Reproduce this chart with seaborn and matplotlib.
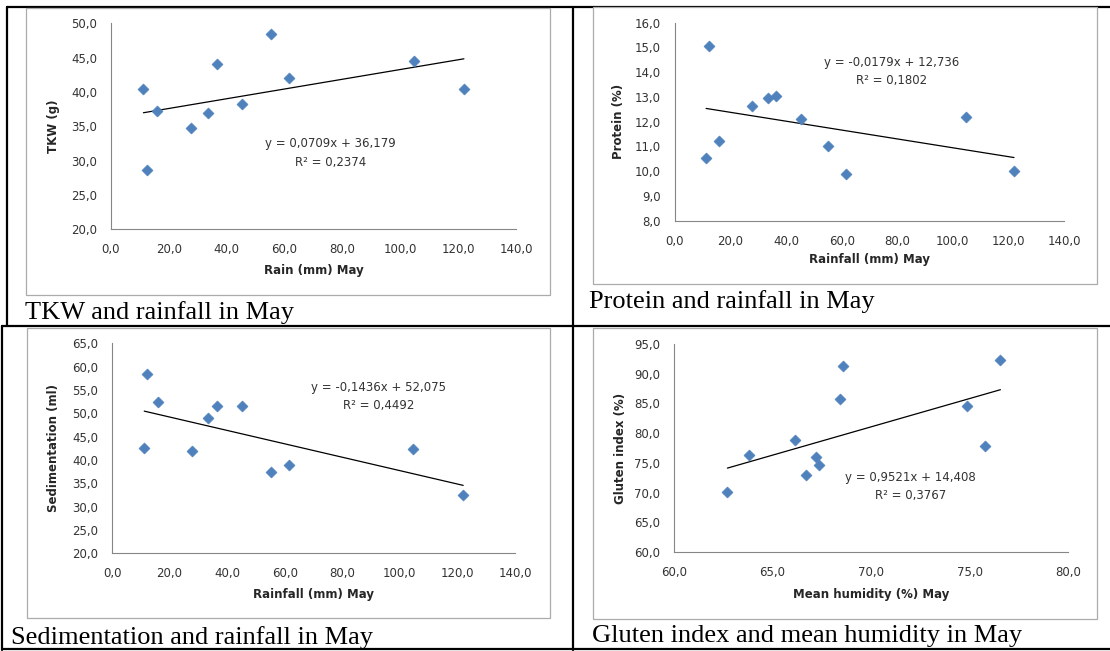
import numpy as np
import pandas as pd
import seaborn as sns
import matplotlib.pyplot as plt
from matplotlib.lines import Line2D
from matplotlib.patches import Rectangle
from matplotlib.ticker import FuncFormatter, MultipleLocator

# data
rain_may = [11.2, 12.3, 15.9, 27.8, 33.5, 36.5, 45.3, 55.2, 61.6, 104.6, 122.0]
tkw = [40.5, 28.7, 37.3, 34.7, 37.0, 44.0, 38.3, 48.4, 42.0, 44.5, 40.4]
protein = [10.52, 15.07, 11.23, 12.65, 12.97, 13.02, 12.09, 11.02, 9.90, 12.20, 10.02]
sedimentation = [42.5, 58.4, 52.4, 41.9, 48.9, 51.5, 51.5, 37.4, 38.9, 42.4, 32.5]
humidity_may = [62.71, 63.81, 66.13, 66.72, 67.23, 67.38, 68.43, 68.60, 74.89, 75.80, 76.57]
gluten_index = [70.08, 76.35, 78.87, 72.93, 76.01, 74.67, 85.70, 91.30, 84.64, 77.81, 92.36]

slopes = [0.0709, -0.0179, -0.1436, 0.9521]
intercepts = [36.179, 12.736, 52.075, 14.408]
equations = ['y = 0,0709x + 36,179', 'y = -0,0179x + 12,736',
             'y = -0,1436x + 52,075', 'y = 0,9521x + 14,408']
r_squared = ['R² = 0,2374', 'R² = 0,1802', 'R² = 0,4492', 'R² = 0,3767']
x_labels = ['Rain (mm) May', 'Rainfall (mm) May', 'Rainfall (mm) May', 'Mean humidity (%) May']
y_labels = ['TKW (g)', 'Protein (%)', 'Sedimentation (ml)', 'Gluten index (%)']
captions = ['TKW and rainfall in May', 'Protein and rainfall in May',
            'Sedimentation and rainfall in May', 'Gluten index and mean humidity in May']

xs = [rain_may, rain_may, rain_may, humidity_may]
ys = [tkw, protein, sedimentation, gluten_index]

# layout in pixels of the 1110x651 picture
W, H = 1110, 651
panels = [
    dict(axes=(111, 516, 23.3, 229.3), frame=(26, 550, 8, 295),
         xlim=(0, 140), xstep=20, ylim=(20, 50), ystep=5,
         eq=(76, 32.5, 29.76), xl=-0.198, yl=-0.143, cap=(25, 319)),
    dict(axes=(675, 1064, 22.7, 220.7), frame=(593, 1097, 7, 284),
         xlim=(0, 140), xstep=20, ylim=(8, 16), ystep=1,
         eq=(78, 14.38, 13.67), xl=-0.198, yl=-0.144, cap=(589, 308)),
    dict(axes=(112, 515, 343.3, 553.3), frame=(27, 550, 328, 618),
         xlim=(0, 140), xstep=20, ylim=(20, 65), ystep=5,
         eq=(92.5, 55.5, 51.6), xl=-0.194, yl=-0.146, cap=(11, 644)),
    dict(axes=(674, 1068, 344, 552), frame=(593, 1097, 328, 619),
         xlim=(60, 80), xstep=5, ylim=(60, 95), ystep=5,
         eq=(72.0, 72.6, 69.5), xl=-0.202, yl=-0.137, cap=(592, 642)),
]

sns.set_style('white')
plt.rcParams['font.family'] = ['DejaVu Sans']

fig = plt.figure(figsize=(W / 100, H / 100), dpi=100)
fig.patch.set_facecolor('white')

comma_fmt = FuncFormatter(lambda v, pos: f'{v:.1f}'.replace('.', ','))

# table rules
table_lines = [((7, 1110), (7, 7)), ((7, 7), (7, 326)), ((2, 1110), (326, 326)),
               ((573, 573), (7, 650)), ((2, 2), (326, 650)), ((2, 1110), (649, 649))]
for (lx, ly) in table_lines:
    fig.add_artist(Line2D([v / W for v in lx], [1 - v / H for v in ly],
                          transform=fig.transFigure, color='black', lw=1.6, zorder=-2))

marker_col = '#4F81BD'
axis_col = '#868686'

for i, p in enumerate(panels):
    fx0, fx1, fy0, fy1 = p['frame']
    fig.add_artist(Rectangle((fx0 / W, 1 - fy1 / H), (fx1 - fx0) / W, (fy1 - fy0) / H,
                             transform=fig.transFigure, facecolor='white',
                             edgecolor='#ababab', lw=0.9, zorder=-1))

    x0, x1, y0, y1 = p['axes']
    ax = fig.add_axes([x0 / W, 1 - y1 / H, (x1 - x0) / W, (y1 - y0) / H])
    ax.patch.set_alpha(0)

    df = pd.DataFrame({'x': xs[i], 'y': ys[i]})
    sns.scatterplot(data=df, x='x', y='y', marker='D', s=32, color=marker_col,
                    edgecolor=marker_col, linewidth=0.4, ax=ax, zorder=3, clip_on=False)

    xmin, xmax = df['x'].min(), df['x'].max()
    trend = pd.DataFrame({'x': [xmin, xmax],
                          'y': [slopes[i] * xmin + intercepts[i], slopes[i] * xmax + intercepts[i]]})
    sns.lineplot(data=trend, x='x', y='y', color='black', lw=0.9, ax=ax, zorder=2)

    ax.set_xlim(*p['xlim'])
    ax.set_ylim(*p['ylim'])
    ax.xaxis.set_major_locator(MultipleLocator(p['xstep']))
    ax.yaxis.set_major_locator(MultipleLocator(p['ystep']))
    ax.xaxis.set_major_formatter(comma_fmt)
    ax.yaxis.set_major_formatter(comma_fmt)

    for side in ['top', 'right']:
        ax.spines[side].set_visible(False)
    for side in ['left', 'bottom']:
        ax.spines[side].set_color(axis_col)
        ax.spines[side].set_linewidth(0.8)
    ax.tick_params(direction='out', length=4, width=0.8, color=axis_col,
                   labelsize=8.5, labelcolor='#333333', pad=6)

    ax.set_xlabel(x_labels[i], fontsize=8.5, fontweight='bold', color='#262626')
    ax.set_ylabel(y_labels[i], fontsize=8.5, fontweight='bold', color='#262626')
    ax.xaxis.label.set_va('center')
    ax.yaxis.label.set_va('center')
    ax.xaxis.set_label_coords(0.5, p['xl'])
    ax.yaxis.set_label_coords(p['yl'], 0.5)

    ex, ey1, ey2 = p['eq']
    ax.text(ex, ey1, equations[i], ha='center', va='center', fontsize=8.5, color='#333333')
    ax.text(ex, ey2, r_squared[i], ha='center', va='center', fontsize=8.5, color='#333333')

    cx, cy = p['cap']
    fig.text(cx / W, 1 - cy / H, captions[i], ha='left', va='baseline',
             fontsize=19, family=['Liberation Serif'], color='black')

plt.savefig('out.png', dpi=100, facecolor='white')
